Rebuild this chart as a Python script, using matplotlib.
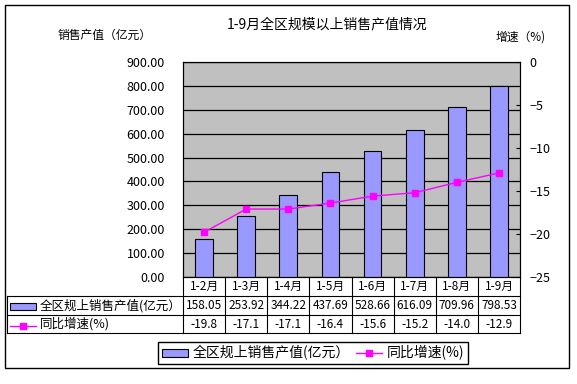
import matplotlib
matplotlib.use("Agg")
import matplotlib.pyplot as plt
from matplotlib.patches import Rectangle
from matplotlib.lines import Line2D

plt.rcParams['font.family'] = ['Noto Sans CJK SC', 'DejaVu Sans']

months = ['1-2月', '1-3月', '1-4月', '1-5月', '1-6月', '1-7月', '1-8月', '1-9月']
sales = [158.05, 253.92, 344.22, 437.69, 528.66, 616.09, 709.96, 798.53]
growth = [-19.8, -17.1, -17.1, -16.4, -15.6, -15.2, -14.0, -12.9]
sales_name = '全区规上销售产值(亿元）'
growth_name = '同比增速(%)'

W, H = 577, 384
fig = plt.figure(figsize=(W / 100, H / 100), dpi=100)

def fx(x):
    return x / W

def fy(y):
    return 1 - y / H

# plot area in pixels
L, R, T, B = 183, 520, 62, 277
ax = fig.add_axes([fx(L), fy(B), fx(R - L), (B - T) / H])
ax.set_facecolor('#C0C0C0')
x = list(range(len(months)))
bars = ax.bar(x, sales, width=0.42, color='#9999FF', edgecolor='black', linewidth=0.8, zorder=3)
ax.set_xlim(-0.5, len(months) - 0.5)
ax.set_ylim(0, 900)
ax.set_yticks(range(0, 901, 100))
ax.set_yticklabels([f'{v:.2f}' for v in range(0, 901, 100)], fontsize=9)
ax.yaxis.grid(True, color='black', linewidth=0.9, zorder=0)
ax.set_axisbelow(True)
ax.tick_params(axis='y', length=0, pad=13)
ax.set_xticks([])
for s in ax.spines.values():
    s.set_linewidth(0.8)

ax2 = ax.twinx()
line, = ax2.plot(x, growth, color='#FF00FF', lw=1, marker='s', markersize=5, zorder=4)
ax2.set_ylim(-25, 0)
ax2.set_yticks(range(-25, 1, 5))
ax2.tick_params(axis='y', direction='in', length=3, pad=7, labelsize=9)

fig.text(fx(327), fy(24), '1-9月全区规模以上销售产值情况', ha='center', va='center', fontsize=10)
fig.text(fx(105), fy(35), '销售产值（亿元）', ha='center', va='center', fontsize=8.5)
fig.text(fx(521), fy(37), '增速（%)', ha='center', va='center', fontsize=8.5)

# overlay for border and data table
ov = fig.add_axes([0, 0, 1, 1])
ov.set_xlim(0, W)
ov.set_ylim(H, 0)
ov.axis('off')
ov.add_patch(Rectangle((5, 5), 564, 363, fill=False, edgecolor='black', lw=1))

tl, r0, r1, r2, r3 = 7, 277, 296, 315, 333
cw = (R - L) / len(months)
kw = dict(color='black', lw=0.8)
ov.plot([tl, R], [r1, r1], **kw)
ov.plot([tl, R], [r2, r2], **kw)
ov.plot([tl, R], [r3, r3], **kw)
ov.plot([tl, tl], [r1, r3], **kw)
ov.plot([L, L], [r0, r3], **kw)
for i in range(len(months)):
    xe = L + cw * (i + 1)
    ov.plot([xe, xe], [r0, r3], **kw)
    xc = L + cw * (i + 0.5)
    ov.text(xc, (r0 + r1) / 2, months[i], ha='center', va='center', fontsize=8.5)
    ov.text(xc, (r1 + r2) / 2, f'{sales[i]:.2f}', ha='center', va='center', fontsize=8.5)
    ov.text(xc, (r2 + r3) / 2, f'{growth[i]:.1f}', ha='center', va='center', fontsize=8.5)

ov.add_patch(Rectangle((10, 303), 26, 7, facecolor='#9999FF', edgecolor='black', lw=0.8))
ov.text(40, (r1 + r2) / 2, sales_name, ha='left', va='center', fontsize=9)
ov.add_line(Line2D([10, 23, 36], [326, 326, 326], color='#FF00FF', lw=1,
                   marker='s', markersize=5, markevery=[1]))
ov.text(40, (r2 + r3) / 2, growth_name, ha='left', va='center', fontsize=9)

leg = fig.legend([bars, line], [sales_name, growth_name], loc='center',
                 bbox_to_anchor=(fx(313), fy(353)), ncol=2, fontsize=10,
                 frameon=True, fancybox=False, edgecolor='black', framealpha=1,
                 handlelength=1.9, handleheight=0.5, columnspacing=0.4,
                 handletextpad=0.35, borderpad=0.25, borderaxespad=0)
leg.get_frame().set_linewidth(1)

fig.savefig('out.png', dpi=100)
